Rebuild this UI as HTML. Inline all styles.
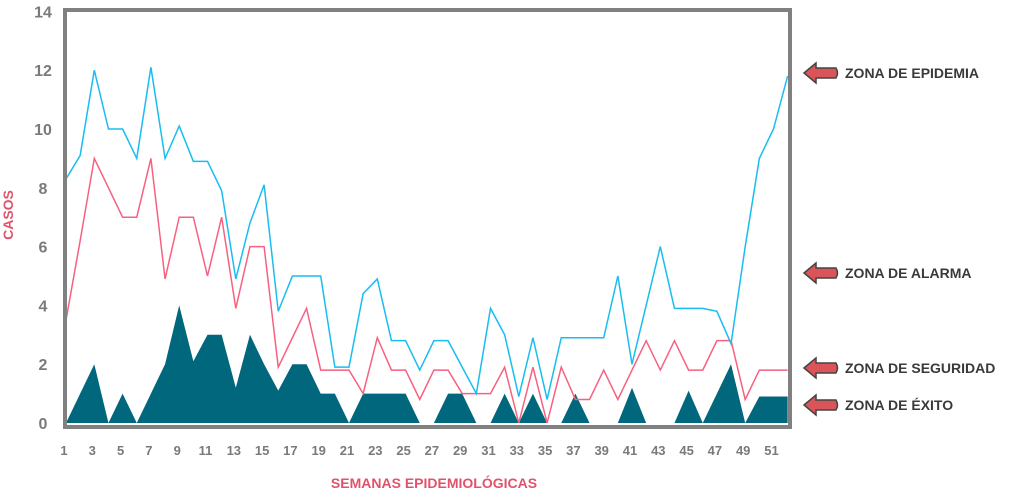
<!DOCTYPE html>
<html><head><meta charset="utf-8"><style>
body{margin:0;background:#fff;}
svg text{font-family:"Liberation Sans",sans-serif;font-weight:bold;}
</style></head><body>
<svg width="1024" height="494" viewBox="0 0 1024 494">
<g id="g"></g>
</svg>
<script>
const weeks=[];for(let i=1;i<=52;i++)weeks.push(i);
const epidemia=[8.3,9.1,12,10,10,9,12.1,9,10.1,8.9,8.9,7.9,4.9,6.8,8.1,3.8,5,5,5,1.9,1.9,4.4,4.9,2.8,2.8,1.8,2.8,2.8,1.9,1,3.9,3.0,0.9,2.9,0.8,2.9,2.9,2.9,2.9,5,2,4,6,3.9,3.9,3.9,3.8,2.7,6,9,10,11.8];
const alarma=[3.5,6.2,9,8,7,7,9,4.9,7,7,5,7,3.9,6,6,1.9,2.9,3.9,1.8,1.8,1.8,1,2.9,1.8,1.8,0.8,1.8,1.8,1,1,1,1.9,0,1.9,0,1.9,0.8,0.8,1.8,0.8,1.8,2.8,1.8,2.8,1.8,1.8,2.8,2.8,0.8,1.8,1.8,1.8];
const seguridad=[0,1,2,0,1,0,1,2,4,2.1,3,3,1.2,3,2,1.1,2,2,1,1,0,1,1,1,1,0,0,1,1,0,0,1,0,1,0,0,1,0,0,0,1.2,0,0,0,1.1,0,1,2,0,0.9,0.9,0.9];
const yTicks=[0,2,4,6,8,10,12,14];
const xTicks=[1,3,5,7,9,11,13,15,17,19,21,23,25,27,29,31,33,35,37,39,41,43,45,47,49,51];
const zones=[{label:"ZONA DE EPIDEMIA",v:11.7},{label:"ZONA DE ALARMA",v:5},{label:"ZONA DE SEGURIDAD",v:1.8},{label:"ZONA DE ÉXITO",v:0.6}];
const NS="http://www.w3.org/2000/svg";
const g=document.getElementById('g');
const X=w=>66+(w-1)*14.15;
const Y=v=>423-v*29.4;
function el(t,a,txt){const e=document.createElementNS(NS,t);for(const k in a)e.setAttribute(k,a[k]);if(txt!=null)e.textContent=txt;g.appendChild(e);return e;}
// area
let d="M"+X(1)+","+Y(0);
seguridad.forEach((v,i)=>d+=" L"+X(weeks[i])+","+Y(v));
d+=" L"+X(52)+","+Y(0)+" Z";
let a=el('path',{d:d,fill:'#00677c'});


function line(arr,col,name){const p=el('polyline',{points:arr.map((v,i)=>X(weeks[i])+","+Y(v)).join(" "),fill:'none',stroke:col,'stroke-width':1.5});

}
line(alarma,'#f7617f','zona-alarma-line');
line(epidemia,'#19bdf0','zona-epidemia-line');
let f=el('rect',{x:65,y:10,width:725,height:417,fill:'none',stroke:'#808080','stroke-width':4});


yTicks.forEach(v=>{const t=el('text',{x:43,y:Y(v)+6,'text-anchor':'middle','font-size':16,fill:'#7a7a7a'},v);

});
xTicks.forEach(v=>{const t=el('text',{x:X(v)-2,y:455,'text-anchor':'middle','font-size':13,fill:'#7a7a7a'},v);

});
let yt=el('text',{x:0,y:0,transform:'translate(13,215) rotate(-90)','text-anchor':'middle','font-size':14,fill:'#e0536a'},'CASOS');


let xt=el('text',{x:434,y:488,'text-anchor':'middle','font-size':14,fill:'#e0536a'},'SEMANAS EPIDEMIOLÓGICAS');


const zy=[73,273,368,405];
zones.forEach((z,i)=>{const y=zy[i];
const ar=el('path',{d:`M804,${y} L816,${y-10} L816,${y-5} L836,${y-5} Q839,${y} 836,${y+5} L816,${y+5} L816,${y+10} Z`,fill:'#d9555a',stroke:'#444','stroke-width':1.5});


const t=el('text',{x:845,y:y+5,'font-size':14,fill:'#3a3a3a'},z.label);

});
</script>
</body></html>
